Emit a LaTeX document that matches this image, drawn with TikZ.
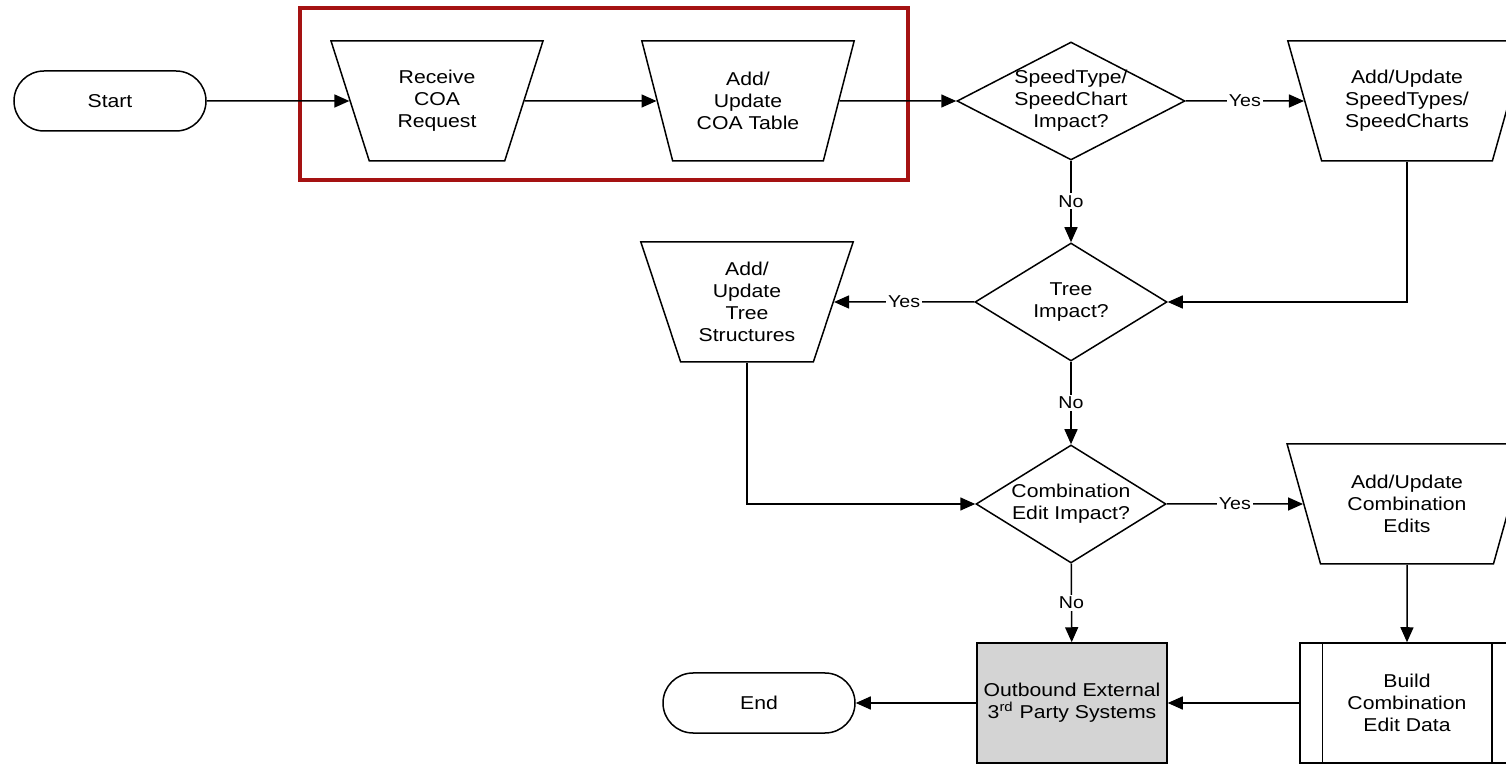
\documentclass[tikz,border=0pt]{standalone}
\usepackage{fontspec}
\setmainfont{Liberation Sans}[FakeStretch=1.14]
\usetikzlibrary{shapes.geometric,arrows.meta}

\definecolor{scopered}{RGB}{165,18,18}
\definecolor{extgray}{RGB}{212,212,212}

\begin{document}
\begin{tikzpicture}[x=0.5pt,y=-0.5pt,
  every node/.style={font=\fontsize{9.3}{11}\selectfont, align=center},
  base/.style={draw=black, line width=0.75pt, fill=white, inner sep=0pt},
  terminal/.style={base, rectangle, rounded corners=15pt, minimum width=96pt, minimum height=30pt},
  manual/.style={base, trapezium, shape border rotate=180, trapezium stretches=true, minimum height=60pt},
  manualL/.style={manual, trapezium left angle=70, trapezium right angle=70, minimum width=106.5pt},
  manualR/.style={manual, trapezium left angle=68.2, trapezium right angle=68.2, minimum width=120pt},
  decision/.style={base, diamond, inner xsep=-8pt, inner ysep=-8pt, minimum height=59pt},
  process/.style={base, rectangle, minimum height=60pt},
  flow/.style={draw=black, line width=0.75pt, -{Triangle[length=7.5pt,width=6.5pt]}},
  lbl/.style={fill=white, inner sep=1pt, font=\fontsize{8.6}{10}\selectfont},
]
\useasboundingbox (0,0) rectangle (1506,764);
\clip (0,0) rectangle (1506,764);

% highlighted scope around the first two steps
\draw[scopered, line width=2pt] (300,8) rectangle (908,180);

% top row
\node[terminal] (start) at (110,101) {Start};
\node[manualL] (recv) at (437,101) {Receive\\COA\\Request};
\node[manualL] (addcoa) at (748,101) {Add/\\Update\\COA Table};
\node[decision, aspect=1.93, minimum width=114pt] (dec1) at (1071,101) {SpeedType/\\SpeedChart\\Impact?};
\node[manualR] (speed) at (1407,101) {Add/Update\\SpeedTypes/\\SpeedCharts};

% middle rows
\node[decision, aspect=1.62, minimum width=96pt] (tree) at (1071,302) {Tree\\Impact?};
\node[manualL] (treestr) at (747,302) {Add/\\Update\\Tree\\Structures};
\node[decision, aspect=1.62, minimum width=95pt] (comb) at (1071,504) {Combination\\Edit Impact?};
\node[manualR] (combed) at (1407,504) {Add/Update\\Combination\\Edits};

% bottom row
\node[process, fill=extgray, minimum width=95pt] (out) at (1072,703) {Outbound External\\3\textsuperscript{rd} Party Systems};
\node[process, minimum width=107pt] (build) at (1407,703) {Build\\Combination\\Edit Data};
\draw[line width=0.75pt] ([xshift=11.5pt]build.north west) -- ([xshift=11.5pt]build.south west);
\draw[line width=0.75pt] ([xshift=-11.5pt]build.north east) -- ([xshift=-11.5pt]build.south east);
\node[terminal] (end) at (759,703) {End};

% connectors
\draw[flow] (start) -- (recv);
\draw[flow] (recv) -- (addcoa);
\draw[flow] (addcoa) -- (dec1);
\draw[flow] (dec1) -- node[lbl]{Yes} (speed);
\draw[flow] (dec1) -- node[lbl]{No} (tree);
\draw[flow] (speed) |- (tree);
\draw[flow] (tree) -- node[lbl]{Yes} (treestr);
\draw[flow] (tree) -- node[lbl]{No} (comb);
\draw[flow] (treestr) |- (comb);
\draw[flow] (comb) -- node[lbl]{Yes} (combed);
\draw[flow] (comb) -- node[lbl]{No} (out);
\draw[flow] (combed) -- (build);
\draw[flow] (build) -- (out);
\draw[flow] (out) -- (end);
\end{tikzpicture}
\end{document}
